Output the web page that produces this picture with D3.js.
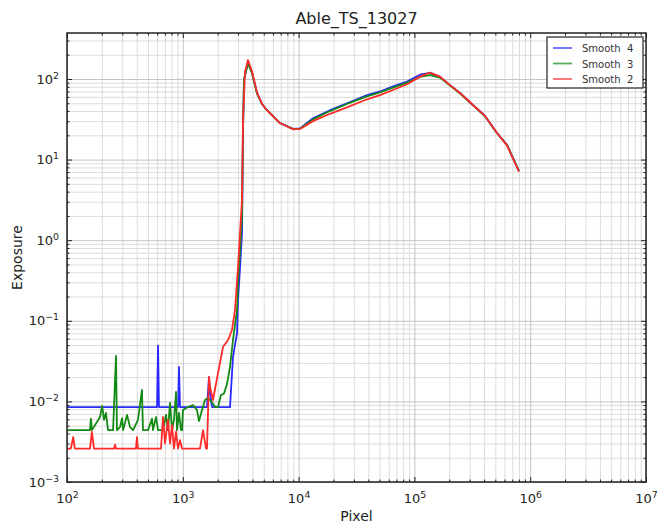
<!DOCTYPE html>
<html>
<head>
<meta charset="utf-8">
<script src="https://cdn.jsdelivr.net/npm/d3@7"></script>
<style>
  body { margin: 0; background: #fff; }
  svg { font-family: "DejaVu Sans", sans-serif; }
</style>
</head>
<body>
<div id="app"></div>
<script>
// values
const chartTitle = "Able_TS_13027";
const seriesNames = [ "Smooth  4", "Smooth  3", "Smooth  2" ];
const xTicks = [ 1e2, 1e3, 1e4, 1e5, 1e6, 1e7 ];
const yTicks = [ 1e-3, 1e-2, 1e-1, 1e0, 1e1, 1e2 ];

const smooth4Pixel = [ 100, 599, 611, 623, 910, 927, 946, 1618, 1684, 1718, 1790, 2556, 2713, 2939, 2998, 3119, 3245, 3311, 3378, 3656 ];
const smooth4Exposure = [ 0.0085, 0.0085, 0.049, 0.0085, 0.0085, 0.0267, 0.0085, 0.0085, 0.0201, 0.0125, 0.0085, 0.0085, 0.0356, 0.0706, 0.18, 0.45, 1.23, 23, 97, 165 ];

const smooth3Pixel = [ 100, 158, 161, 164, 193, 201, 209, 217, 226, 250, 265, 270, 287, 299, 305, 330, 350, 372, 410, 444, 453, 501, 542, 553, 587, 611, 675, 716, 745, 775, 807, 839, 874, 891, 927, 965, 984, 1004, 1109, 1225, 1327, 1380, 1465, 1555, 1651, 1787, 1897, 2015, 2138, 2269, 2409, 2556, 2713, 2939, 2998, 3119, 3245, 3311, 3378, 3656 ];
const smooth3Exposure = [ 0.0044, 0.0044, 0.0061, 0.0044, 0.0064, 0.0088, 0.0059, 0.0072, 0.0044, 0.0044, 0.0366, 0.0044, 0.0048, 0.0062, 0.0044, 0.0068, 0.0048, 0.0044, 0.0059, 0.0139, 0.0044, 0.0044, 0.0061, 0.0044, 0.0064, 0.0044, 0.0044, 0.0068, 0.0044, 0.0096, 0.0044, 0.0059, 0.0131, 0.0044, 0.0072, 0.0044, 0.0044, 0.0078, 0.0085, 0.0090, 0.0078, 0.0057, 0.0078, 0.0104, 0.0110, 0.0098, 0.0085, 0.0085, 0.0120, 0.0125, 0.0164, 0.0267, 0.0578, 0.136, 0.294, 0.755, 1.94, 25, 100, 155 ];

const smooth2Pixel = [ 100, 108, 113, 117, 158, 164, 171, 255, 260, 265, 394, 402, 410, 648, 675, 702, 745, 775, 807, 839, 874, 909, 946, 984, 1408, 1495, 1586, 1618, 1684, 1718, 1823, 2015, 2224, 2457, 2660, 2824, 2998, 3119, 3245, 3311, 3445, 3656 ];
const smooth2Exposure = [ 0.0026, 0.0026, 0.0036, 0.0026, 0.0026, 0.0042, 0.0026, 0.0026, 0.0029, 0.0026, 0.0026, 0.0036, 0.0026, 0.0026, 0.0064, 0.0030, 0.0059, 0.0030, 0.0051, 0.0026, 0.0042, 0.0026, 0.0033, 0.0026, 0.0026, 0.0044, 0.0026, 0.0026, 0.0201, 0.0151, 0.0104, 0.0225, 0.0473, 0.0578, 0.0769, 0.136, 0.465, 1.23, 3.15, 31, 122, 172 ];

// after the peak all three runs share the same pixel samples
const tailPixel = [ 3960, 4375, 4831, 5336, 6907, 8944, 10280, 13300, 18660, 26180, 38990, 50470, 65340, 86300, 111700, 136400, 166400, 203000, 247700, 320600, 407000, 517000, 630000, 710000, 800000 ];
const smooth4Tail = [ 120, 67, 49, 41, 28.4, 24.0, 24.4, 32.5, 41, 50, 63, 70, 81, 93, 113, 119, 106, 84, 67, 47.6, 34.8, 21.4, 15.2, 10.5, 7.2 ];
const smooth3Tail = [ 118, 66, 49, 41, 28.4, 24.0, 24.2, 31.5, 40, 49, 61, 68, 78, 90, 106, 112, 104, 83, 66, 47, 34.5, 21.2, 15.2, 10.5, 7.2 ];
const smooth2Tail = [ 124, 68, 49, 41, 28.4, 23.8, 24.0, 30, 37, 44.5, 56, 63, 73, 86, 107, 120, 107, 84, 67, 47.6, 34.8, 21.4, 15, 10.3, 7.1 ];

const colors = [ "#2a2aff", "#148a14", "#ff2a2a" ];

function toPoints( xs, ys, tx, ty ) {
  const px = xs.concat( tx );
  const py = ys.concat( ty );
  return px.map( ( v, i ) => ( { x: v, y: py[i] } ) );
}

const series = [
  toPoints( smooth4Pixel, smooth4Exposure, tailPixel, smooth4Tail ),
  toPoints( smooth3Pixel, smooth3Exposure, tailPixel, smooth3Tail ),
  toPoints( smooth2Pixel, smooth2Exposure, tailPixel, smooth2Tail )
];

const W = 659, H = 527;
const m = { top: 33, right: 13, bottom: 45, left: 67 };
const w = W - m.left - m.right;
const h = H - m.top - m.bottom;

const x = d3.scaleLog().domain( [ 1e2, 1e7 ] ).range( [ 0, w ] );
const y = d3.scaleLog().domain( [ 1e-3, 372 ] ).range( [ h, 0 ] );

// minor positions 2..9 in each decade
const xMinor = [];
for ( let e = 2; e < 7; e++ ) for ( let k = 2; k < 10; k++ ) xMinor.push( k * Math.pow( 10, e ) );
const yMinor = [];
for ( let e = -3; e < 3; e++ ) for ( let k = 2; k < 10; k++ ) {
  const v = k * Math.pow( 10, e );
  if ( v < 372 ) yMinor.push( v );
}

const svg = d3.select( "#app" ).append( "svg" )
  .attr( "width", W ).attr( "height", H );

const g = svg.append( "g" ).attr( "transform", `translate(${m.left},${m.top})` );

// grid
function grid( sel, gen, color ) {
  sel.call( gen );
  sel.select( ".domain" ).remove();
  sel.selectAll( "line" ).attr( "stroke", color ).attr( "stroke-width", 1 );
}
g.append( "g" ).attr( "transform", `translate(0,${h})` )
  .call( s => grid( s, d3.axisBottom( x ).tickValues( xMinor ).tickSize( -h ).tickFormat( "" ), "#dcdcdc" ) );
g.append( "g" )
  .call( s => grid( s, d3.axisLeft( y ).tickValues( yMinor ).tickSize( -w ).tickFormat( "" ), "#dcdcdc" ) );
g.append( "g" ).attr( "transform", `translate(0,${h})` )
  .call( s => grid( s, d3.axisBottom( x ).tickValues( xTicks ).tickSize( -h ).tickFormat( "" ), "#c4c4c4" ) );
g.append( "g" )
  .call( s => grid( s, d3.axisLeft( y ).tickValues( yTicks ).tickSize( -w ).tickFormat( "" ), "#c4c4c4" ) );

// lines
const line = d3.line().x( d => x( d.x ) ).y( d => y( d.y ) );
const clip = svg.append( "clipPath" ).attr( "id", "clip" ).append( "rect" ).attr( "width", w ).attr( "height", h );
g.append( "g" ).attr( "clip-path", "url(#clip)" )
  .selectAll( "path" )
  .data( series )
  .enter()
  .append( "path" )
  .attr( "d", line )
  .attr( "fill", "none" )
  .attr( "stroke", ( d, i ) => colors[i] )
  .attr( "stroke-width", 1.8 )
  .attr( "stroke-linejoin", "round" );

// inward ticks on all four sides
function ticks( sel, gen ) {
  sel.call( gen );
  sel.select( ".domain" ).remove();
  sel.selectAll( "line" ).attr( "stroke", "#222" );
}
g.append( "g" ).attr( "transform", `translate(0,${h})` ).call( s => ticks( s, d3.axisBottom( x ).tickValues( xMinor ).tickSize( -2.5 ).tickFormat( "" ) ) );
g.append( "g" ).call( s => ticks( s, d3.axisTop( x ).tickValues( xMinor ).tickSize( -2.5 ).tickFormat( "" ) ) );
g.append( "g" ).call( s => ticks( s, d3.axisLeft( y ).tickValues( yMinor ).tickSize( -2.5 ).tickFormat( "" ) ) );
g.append( "g" ).attr( "transform", `translate(${w},0)` ).call( s => ticks( s, d3.axisRight( y ).tickValues( yMinor ).tickSize( -2.5 ).tickFormat( "" ) ) );
g.append( "g" ).call( s => ticks( s, d3.axisTop( x ).tickValues( xTicks ).tickSize( -5 ).tickFormat( "" ) ) );
g.append( "g" ).attr( "transform", `translate(${w},0)` ).call( s => ticks( s, d3.axisRight( y ).tickValues( yTicks ).tickSize( -5 ).tickFormat( "" ) ) );

function powLabel( sel ) {
  sel.selectAll( "text" ).each( function( d ) {
    const t = d3.select( this );
    t.text( null );
    t.append( "tspan" ).text( "10" );
    t.append( "tspan" ).attr( "dy", "-0.55em" ).attr( "font-size", "0.72em" )
      .text( String( Math.round( Math.log10( d ) ) ).replace( "-", "\u2212" ) );
  } );
}

const xAxis = g.append( "g" ).attr( "transform", `translate(0,${h})` )
  .call( d3.axisBottom( x ).tickValues( xTicks ).tickSize( -5 ).tickPadding( 12 ) );
xAxis.select( ".domain" ).remove();
xAxis.selectAll( "line" ).attr( "stroke", "#222" );
xAxis.selectAll( "text" ).attr( "font-size", 13 ).attr( "fill", "#222" ).attr( "font-family", "DejaVu Sans" );
powLabel( xAxis );

const yAxis = g.append( "g" )
  .call( d3.axisLeft( y ).tickValues( yTicks ).tickSize( -5 ).tickPadding( 8 ) );
yAxis.select( ".domain" ).remove();
yAxis.selectAll( "line" ).attr( "stroke", "#222" );
yAxis.selectAll( "text" ).attr( "font-size", 13 ).attr( "fill", "#222" ).attr( "font-family", "DejaVu Sans" );
powLabel( yAxis );

// frame
g.append( "rect" ).attr( "width", w ).attr( "height", h )
  .attr( "fill", "none" ).attr( "stroke", "#222" ).attr( "stroke-width", 1.5 );

// title and axis labels
svg.append( "text" ).attr( "x", m.left + w / 2 ).attr( "y", 24 )
  .attr( "text-anchor", "middle" ).attr( "font-size", 16 ).attr( "fill", "#222" ).text( chartTitle );
svg.append( "text" ).attr( "x", m.left + w / 2 ).attr( "y", 521 )
  .attr( "text-anchor", "middle" ).attr( "font-size", 14 ).attr( "fill", "#222" ).text( "Pixel" );
svg.append( "text" ).attr( "transform", `translate(22,${m.top + h / 2}) rotate(-90)` )
  .attr( "text-anchor", "middle" ).attr( "font-size", 14 ).attr( "fill", "#222" ).text( "Exposure" );

// legend
const lg = svg.append( "g" ).attr( "transform", "translate(547,37)" );
lg.append( "rect" ).attr( "width", 96 ).attr( "height", 51 )
  .attr( "fill", "#fff" ).attr( "stroke", "#222" ).attr( "stroke-width", 1.2 );
const items = lg.selectAll( "g.item" ).data( seriesNames ).enter().append( "g" )
  .attr( "transform", ( d, i ) => `translate(0,${11 + i * 15.5})` );
items.append( "line" ).attr( "x1", 6 ).attr( "x2", 25 )
  .attr( "stroke", ( d, i ) => colors[i] ).attr( "stroke-width", 1.8 ).attr( "stroke-opacity", 0.7 );
items.append( "text" ).attr( "x", 35 ).attr( "y", 4 ).attr( "font-size", 10 ).attr( "fill", "#333" )
  .attr( "xml:space", "preserve" ).style( "white-space", "pre" ).text( d => d );
</script>
</body>
</html>
